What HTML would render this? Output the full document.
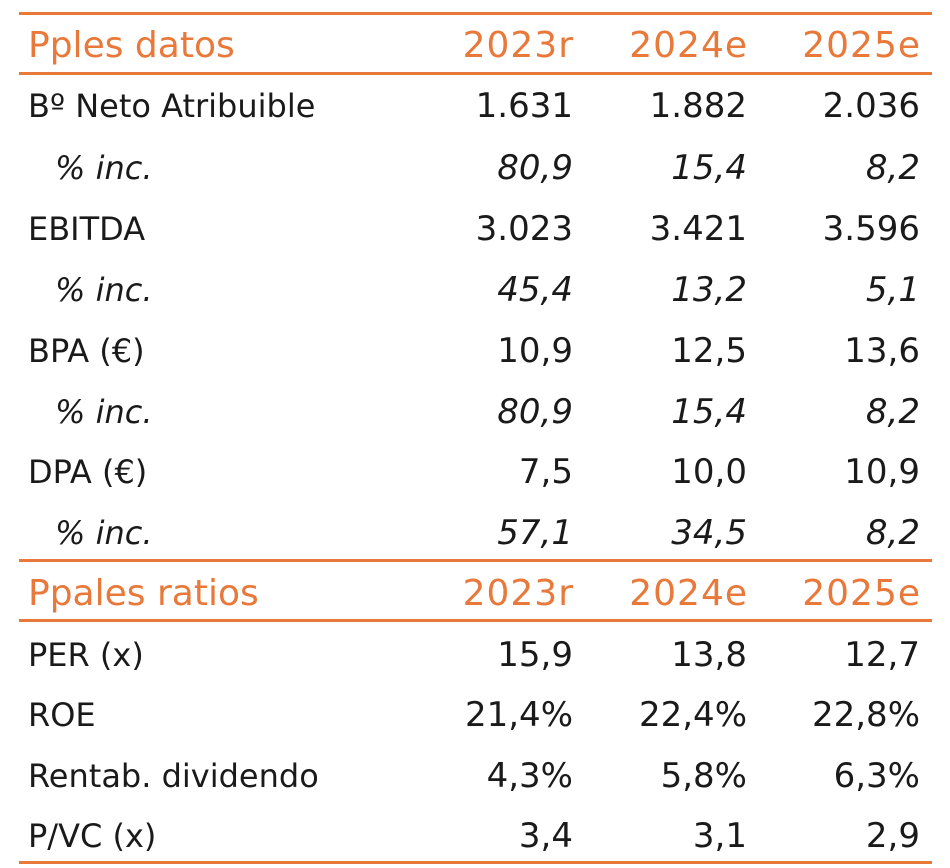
<!DOCTYPE html>
<html><head><meta charset="utf-8"><style>
body{margin:0;width:950px;height:868px;background:#fff;position:relative;overflow:hidden;font-family:"DejaVu Sans","Liberation Sans",sans-serif;color:#1a1a1a}
.l{position:absolute;left:19px;width:913px;height:3px;background:#E8793A}
.r{position:absolute;left:0;width:950px;height:40px;font-size:32px;line-height:40px}
.r span{position:absolute;white-space:nowrap}
.r span.c1,.r span.c2,.r span.c3{font-size:34px;letter-spacing:0px}
.a{left:28px}
.c1{right:377px}.c2{right:203px}.c3{right:30px}
.h{color:#E8793A;font-size:35px}
.h span.a{font-size:36px}
.h span.c1,.h span.c2,.h span.c3{font-size:36px;letter-spacing:1px;margin-right:-1px}
.i{font-style:italic}
.i .a{left:55px}
</style></head><body>
<div class="l" style="top:12px"></div>
<div class="l" style="top:72px"></div>
<div class="l" style="top:559px"></div>
<div class="l" style="top:619px"></div>
<div class="l" style="top:861px"></div>
<div class="r h" style="top:26px"><span class="a">Pples datos</span><span class="c1">2023r</span><span class="c2">2024e</span><span class="c3">2025e</span></div>
<div class="r" style="top:86px"><span class="a">Bº Neto Atribuible</span><span class="c1">1.631</span><span class="c2">1.882</span><span class="c3">2.036</span></div>
<div class="r i" style="top:148px"><span class="a">% inc.</span><span class="c1">80,9</span><span class="c2">15,4</span><span class="c3">8,2</span></div>
<div class="r" style="top:209px"><span class="a">EBITDA</span><span class="c1">3.023</span><span class="c2">3.421</span><span class="c3">3.596</span></div>
<div class="r i" style="top:270px"><span class="a">% inc.</span><span class="c1">45,4</span><span class="c2">13,2</span><span class="c3">5,1</span></div>
<div class="r" style="top:331px"><span class="a">BPA (€)</span><span class="c1">10,9</span><span class="c2">12,5</span><span class="c3">13,6</span></div>
<div class="r i" style="top:392px"><span class="a">% inc.</span><span class="c1">80,9</span><span class="c2">15,4</span><span class="c3">8,2</span></div>
<div class="r" style="top:452px"><span class="a">DPA (€)</span><span class="c1">7,5</span><span class="c2">10,0</span><span class="c3">10,9</span></div>
<div class="r i" style="top:513px"><span class="a">% inc.</span><span class="c1">57,1</span><span class="c2">34,5</span><span class="c3">8,2</span></div>
<div class="r h" style="top:574px"><span class="a">Ppales ratios</span><span class="c1">2023r</span><span class="c2">2024e</span><span class="c3">2025e</span></div>
<div class="r" style="top:635px"><span class="a">PER (x)</span><span class="c1">15,9</span><span class="c2">13,8</span><span class="c3">12,7</span></div>
<div class="r" style="top:695px"><span class="a">ROE</span><span class="c1">21,4%</span><span class="c2">22,4%</span><span class="c3">22,8%</span></div>
<div class="r" style="top:756px"><span class="a">Rentab. dividendo</span><span class="c1">4,3%</span><span class="c2">5,8%</span><span class="c3">6,3%</span></div>
<div class="r" style="top:816px"><span class="a">P/VC (x)</span><span class="c1">3,4</span><span class="c2">3,1</span><span class="c3">2,9</span></div>
</body></html>
